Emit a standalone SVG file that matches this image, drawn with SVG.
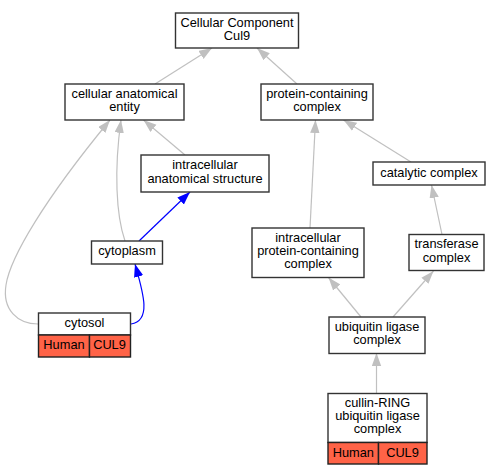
<svg xmlns="http://www.w3.org/2000/svg" width="501" height="475" viewBox="0 0 501 475">
<style>
.box{fill:#fff;stroke:#333;stroke-width:1.4}
.red{fill:#ff6347;stroke:#222;stroke-width:1.4}
text{font-family:"Liberation Sans",Arial,sans-serif;font-size:12.8px;fill:#000;text-anchor:middle}
.g{fill:none;stroke:#c0c0c0;stroke-width:1.2;marker-end:url(#ag)}
.b{fill:none;stroke:#0000ff;stroke-width:1.2;marker-end:url(#ab)}
</style>
<defs>
<marker id="ag" markerUnits="userSpaceOnUse" markerWidth="13" markerHeight="10" refX="13" refY="4.7" orient="auto"><path d="M0,0 L13,4.7 L0,9.4 z" fill="#c0c0c0"/></marker>
<marker id="ab" markerUnits="userSpaceOnUse" markerWidth="13" markerHeight="10" refX="13" refY="4.7" orient="auto"><path d="M0,0 L13,4.7 L0,9.4 z" fill="#0000ff"/></marker>
</defs>
<rect width="501" height="475" fill="#fff"/>
<g id="connectors">
<path class="g" d="M155,84 L212,48"/>
<path class="g" d="M297,84 L257,48"/>
<path class="g" d="M185,155 L143.5,120"/>
<path class="g" d="M125,241 C116,215 114,170 121,120"/>
<path class="g" d="M38,324 C18,324 2,310 6,285 C10,258 44,200 110,120"/>
<path class="b" d="M139,241 L190,192"/>
<path class="b" d="M131,324 C152,321 143,292 135,264"/>
<path class="g" d="M310,228 L315.5,120"/>
<path class="g" d="M411,162 L343.5,120"/>
<path class="g" d="M442,234.5 L431.5,185"/>
<path class="g" d="M361,317 L328.5,277.5"/>
<path class="g" d="M393,317 L433.5,271"/>
<path class="g" d="M376.5,393.5 L376.5,353"/>
</g>
<g id="n_root"><rect class="box" x="175.5" y="13" width="123" height="35"/><text x="237" y="27">Cellular Component</text><text x="237" y="40.3">Cul9</text></g>
<g id="n_cae"><rect class="box" x="65" y="84" width="119" height="36"/><text x="124.5" y="98">cellular anatomical</text><text x="124.5" y="111.3">entity</text></g>
<g id="n_pcc"><rect class="box" x="261" y="84" width="112" height="36"/><text x="317" y="98">protein-containing</text><text x="317" y="111.3">complex</text></g>
<g id="n_ias"><rect class="box" x="141" y="155" width="128" height="37"/><text x="205" y="169">intracellular</text><text x="205" y="182.5">anatomical structure</text></g>
<g id="n_cat"><rect class="box" x="373" y="162" width="112" height="23"/><text x="429" y="176.5">catalytic complex</text></g>
<g id="n_cyto"><rect class="box" x="91.5" y="241" width="71" height="23"/><text x="127" y="254.5">cytoplasm</text></g>
<g id="n_ipcc"><rect class="box" x="252" y="228" width="112" height="49.5"/><text x="308" y="241.7">intracellular</text><text x="308" y="255">protein-containing</text><text x="308" y="268.3">complex</text></g>
<g id="n_trans"><rect class="box" x="409" y="234.5" width="75" height="36"/><text x="446.5" y="248.4">transferase</text><text x="446.5" y="261.7">complex</text></g>
<g id="n_ubi"><rect class="box" x="329" y="317" width="96" height="36.5"/><text x="377" y="330.5">ubiquitin ligase</text><text x="377" y="344">complex</text></g>
<g id="n_cytosol"><rect class="box" x="38.5" y="313" width="92" height="22"/><rect class="red" x="38.5" y="335" width="51" height="22"/><rect class="red" x="89.5" y="335" width="41" height="22"/><text x="84.5" y="327">cytosol</text><text x="64" y="348.5">Human</text><text x="109.5" y="348.5">CUL9</text></g>
<g id="n_crl"><rect class="box" x="328" y="393.5" width="99" height="49"/><rect class="red" x="328" y="442.5" width="50.5" height="21.5"/><rect class="red" x="378.5" y="442.5" width="48.5" height="21.5"/><text x="377.5" y="407">cullin-RING</text><text x="377.5" y="420.3">ubiquitin ligase</text><text x="377.5" y="433.3">complex</text><text x="353.3" y="457">Human</text><text x="402.5" y="457">CUL9</text></g>
</svg>
